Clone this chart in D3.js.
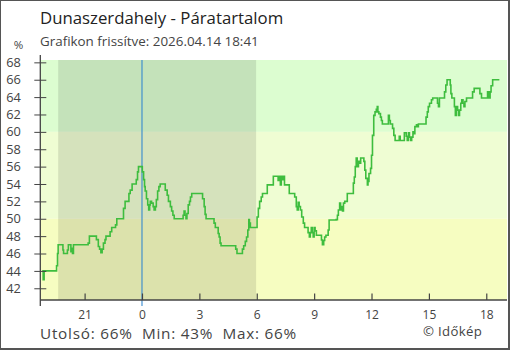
<!DOCTYPE html>
<html>
<head>
<meta charset="utf-8">
<script src="https://cdn.jsdelivr.net/npm/d3@7"></script>
<style>
  html, body { margin: 0; padding: 0; background: #fff; }
  svg { display: block; font-family: "Open Sans", sans-serif; }
</style>
</head>
<body>
<svg id="chart" width="510" height="350"></svg>
<script>
// Humidity readings, Dunaszerdahely (times run from 13 Apr 18:41 to 14 Apr 18:41)
const times = [
  "18:47","18:50","18:53","19:29","19:32","19:35","19:37","19:50","19:52","19:54",
  "20:03","20:06","20:09","20:15","20:17","20:20","20:22","20:25","21:10","21:11",
  "21:15","21:34","21:37","21:43","21:47","21:51","21:55","21:59","22:04","22:07",
  "22:18","22:20","22:25","22:33","22:37","22:41","22:56","23:02","23:07","23:16",
  "23:19","23:23","23:29","23:40","23:42","23:46","23:49","23:58","00:01","00:05",
  "00:08","00:10","00:14","00:18","00:21","00:24","00:26","00:30","00:35","00:38",
  "00:42","00:45","00:49","00:53","00:57","01:11","01:13","01:19","01:23","01:29",
  "01:33","01:37","01:41","02:06","02:09","02:12","02:15","02:18","02:21","02:25",
  "02:29","02:32","02:36","03:07","03:10","03:15","03:18","03:21","03:43","03:46",
  "03:50","03:56","03:59","04:02","04:05","04:08","04:50","04:54","04:58","05:11",
  "05:15","05:19","05:24","05:28","05:32","05:35","05:37","05:40","05:57","06:01",
  "06:05","06:09","06:14","06:18","06:27","06:33","06:48","06:52","07:04","07:07",
  "07:10","07:14","07:17","07:20","07:23","07:27","07:39","07:42","07:56","07:59",
  "08:04","08:07","08:10","08:13","08:17","08:21","08:26","08:30","08:38","08:41",
  "08:45","08:48","08:51","08:54","08:57","09:00","09:03","09:07","09:20","09:23",
  "09:26","09:30","09:33","09:37","09:44","09:47","10:09","10:13","10:16","10:20",
  "10:23","10:26","10:29","10:32","10:36","10:44","11:00","11:03","11:06","11:09",
  "11:12","11:15","11:19","11:22","11:26","11:33","11:36","11:39","11:42","11:47",
  "11:49","11:52","11:57","12:00","12:03","12:07","12:11","12:15","12:18","12:20",
  "12:23","12:28","12:31","12:34","12:50","12:53","12:56","12:59","13:03","13:06",
  "13:10","13:14","13:24","13:27","13:30","13:40","13:43","13:49","13:52","13:56",
  "13:59","14:03","14:06","14:10","14:13","14:16","14:21","14:24","14:27","14:48",
  "14:51","14:55","14:58","15:02","15:08","15:12","15:24","15:27","15:30","15:33",
  "15:46","15:49","15:53","15:57","16:03","16:07","16:09","16:12","16:16","16:20",
  "16:23","16:26","16:30","16:33","16:36","16:40","16:43","16:47","16:50","16:53",
  "16:58","17:11","17:17","17:22","17:37","17:40","17:45","18:01","18:04","18:07",
  "18:09","18:12","18:15","18:20","18:41"
];
const humidity = [
  44,43,44,44,44.6,46,47,47,46.4,46,
  46,46.4,47,47,46.2,46.6,46,47,47,47.2,
  48,48,47.6,46.8,46.5,46.1,46.5,47.2,47.6,48,
  48,48.5,49,49,49.3,50,50,51.2,52,52,
  52.9,53.3,54,54,54.5,55.4,56,56,55.4,54.5,
  53.7,53.2,52.3,51.6,51,51.6,52,51.8,51.4,51,
  51.4,52.2,53.2,53.7,54,54,53.3,52.7,52,51.4,
  50.9,50.4,50,50,50.4,50.9,50.4,50,50.6,51.6,
  52,52.5,52.9,52.9,52.3,51.4,50.5,50,50,49.5,
  49,49,48.3,47.9,47.2,46.9,46.9,46.5,46,46,
  46.5,46.9,47.4,47.9,48.7,49.9,49.5,49,49,50.2,
  51.2,52,52.5,52.9,52.9,53.9,53.9,54.9,54.9,54.4,
  54.9,53.9,54.9,54.5,54.9,53.9,53.9,52.9,52.9,52.5,
  51.4,51,51.9,51.4,51,50.2,49.5,49,49,48.4,
  47.9,48.4,49,48.4,47.9,49,48.6,48.1,48.1,47.55,
  47,47.5,47.9,48.1,48.7,49.85,49.9,50.4,51,51.8,
  51,51.4,50.9,51.8,52,52.9,52.9,54.1,54.8,56,
  57,56,56.6,56.4,57,57,56.6,55.6,54.65,53.9,
  54.3,55.2,55.8,57.3,59.6,61.9,62.3,62.6,62.9,62.3,
  62.1,61.7,61.3,60.9,60.9,61.9,61.3,60.9,60.9,60.4,
  59.6,59,59,59.5,59,59,59.9,59.5,59,59.9,
  59.4,59,59.4,60,59.8,60.6,60.8,60.6,60.9,60.9,
  61.7,62.3,62.9,63.3,63.7,63.9,63.9,63.3,62.9,63.9,
  63.9,64.6,65.4,66,66,65.4,64.4,63.9,63.9,62.9,
  61.9,62.9,62.5,61.9,62.5,63.3,63.7,63.3,62.9,63.5,
  63.9,63.9,64.6,65,65,64.4,63.9,63.9,64.6,64.2,
  63.9,64.6,65.3,66,66
];
const yTicks = [42,44,46,48,50,52,54,56,58,60,62,64,66,68];
const xTickHours = [21,0,3,6,9,12,15,18];
const bands = [ // humidity ranges shaded behind the line
  { from: 60,    to: 68.27, fill: "#dcfdd0" },
  { from: 50,    to: 60,    fill: "#effdd3" },
  { from: 40.65, to: 50,    fill: "#f6fdc1" }
];
const sunset = "19:37", sunrise = "05:58";
const summary = { last: 66, min: 43, max: 66 };

// turn "HH:MM" strings into UTC dates, rolling over at midnight
const day0 = Date.UTC(2026, 3, 13);
function toDate(hm, dayOffset) {
  const [h, m] = hm.split(":").map(Number);
  return new Date(day0 + dayOffset * 864e5 + (h * 60 + m) * 6e4);
}
let dayOff = 0, prevMin = -1;
const data = times.map((t, i) => {
  const [h, m] = t.split(":").map(Number);
  const mins = h * 60 + m;
  if (mins < prevMin) dayOff++;
  prevMin = mins;
  return { t: toDate(t, dayOff), v: humidity[i] };
});

const svg = d3.select("#chart");
const plotLeft = 40.3, plotRight = 507, plotTop = 60, plotBottom = 300;

const x = d3.scaleUtc()
  .domain([toDate("18:41", 0), toDate("19:05", 1)])
  .range([plotLeft, plotRight]);
const y = d3.scaleLinear().domain([40.65, 68.27]).range([plotBottom, plotTop]);

// background bands
svg.append("g").selectAll("rect").data(bands).join("rect")
  .attr("x", plotLeft).attr("width", plotRight - plotLeft)
  .attr("y", d => y(d.to)).attr("height", d => y(d.from) - y(d.to))
  .attr("fill", d => d.fill);

// night shading
const xs = x(toDate(sunset, 0)), xe = x(toDate(sunrise, 1));
svg.append("rect")
  .attr("x", xs).attr("width", xe - xs)
  .attr("y", plotTop).attr("height", plotBottom - plotTop)
  .attr("fill", "#000").attr("opacity", 0.105);

// midnight marker
const xm = x(toDate("00:00", 1));
svg.append("line")
  .attr("x1", xm).attr("x2", xm).attr("y1", plotTop).attr("y2", plotBottom + 6)
  .attr("stroke", "#3489cf").attr("stroke-width", 1.1);

// humidity line
svg.append("path")
  .datum(data)
  .attr("fill", "none")
  .attr("stroke", "#3ebd3e")
  .attr("stroke-width", 1.6)
  .attr("d", d3.line().x(d => x(d.t)).y(d => y(d.v)).curve(d3.curveStepAfter));

// axes
const axisColor = "#444";
const yAxis = svg.append("g").attr("transform", `translate(${plotLeft},0)`)
  .call(d3.axisLeft(y).tickValues(yTicks).tickSize(6).tickPadding(13.5))
  .call(g => g.select(".domain").remove());
yAxis.selectAll(".tick line").attr("x2", 6).attr("x1", -6).attr("stroke", axisColor);
yAxis.selectAll(".tick text").attr("fill", axisColor)
  .style("font-size", "12.8px").style("font-family", "Open Sans, sans-serif");
svg.append("line").attr("x1", plotLeft).attr("x2", plotLeft).attr("y1", 55).attr("y2", plotBottom + 6)
  .attr("stroke", axisColor).attr("stroke-width", 1.3);

const xTickDates = xTickHours.map(h => toDate(String(h).padStart(2, "0") + ":00", h >= 19 ? 0 : 1));
const xAxis = svg.append("g").attr("transform", `translate(0,${plotBottom})`)
  .call(d3.axisBottom(x).tickValues(xTickDates).tickFormat(d3.utcFormat("%-H")).tickSize(0))
  .call(g => g.select(".domain").remove());
xAxis.selectAll(".tick line").attr("y2", -6.5).attr("stroke", axisColor).attr("stroke-width", 1.2);
xAxis.selectAll(".tick text").attr("fill", axisColor)
  .attr("dy", null).attr("y", 18.5)
  .style("font-size", "12px").style("font-family", "Open Sans, sans-serif");
svg.append("line").attr("x1", plotLeft).attr("x2", plotRight).attr("y1", plotBottom).attr("y2", plotBottom)
  .attr("stroke", axisColor).attr("stroke-width", 1.5);

// unit label
svg.append("text").attr("x", 18.5).attr("y", 49).attr("text-anchor", "middle")
  .attr("fill", axisColor).style("font-size", "11.5px").text("%");

// titles
svg.append("text").attr("x", 40).attr("y", 24).attr("fill", "#222")
  .style("font-size", "16.8px").text("Dunaszerdahely - Páratartalom");
svg.append("text").attr("x", 40).attr("y", 45.5).attr("fill", "#444")
  .style("font-size", "13.4px").text("Grafikon frissítve: 2026.04.14 18:41");

// summary + credit
svg.append("text").attr("x", 40).attr("y", 338.5).attr("fill", "#444")
  .style("font-size", "15.3px").style("letter-spacing", "0.75px").attr("xml:space", "preserve")
  .text(`Utolsó: ${summary.last}%  Min: ${summary.min}%  Max: ${summary.max}%`);
svg.append("text").attr("x", 482).attr("y", 336).attr("text-anchor", "end").attr("fill", "#444")
  .style("font-size", "13.2px").style("letter-spacing", "0.3px").text("© Időkép");

// frame
svg.append("rect").attr("x", 0).attr("y", 0).attr("width", 509).attr("height", 349)
  .attr("fill", "none").attr("stroke", "#555").attr("stroke-width", 2);
</script>
</body>
</html>
